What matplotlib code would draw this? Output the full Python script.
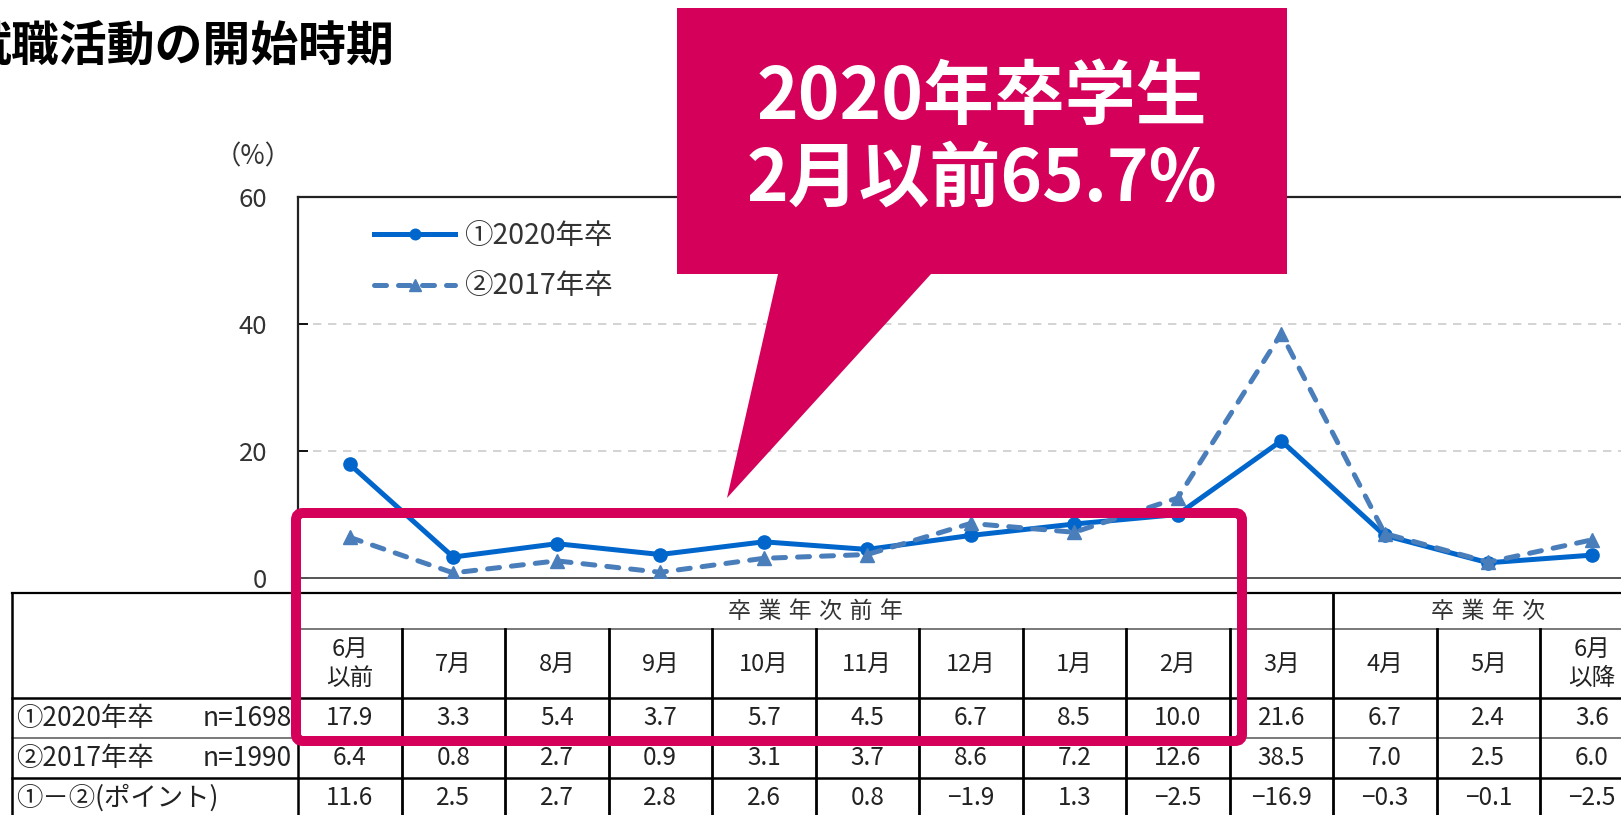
import matplotlib
matplotlib.use('Agg')
import matplotlib.pyplot as plt
from matplotlib.lines import Line2D
from matplotlib.patches import Polygon, FancyBboxPatch
from matplotlib.transforms import blended_transform_factory, IdentityTransform
import numpy as np

plt.rcParams['font.family'] = ['Noto Sans CJK JP', 'DejaVu Sans']

# ---------------- data ----------------
title = '就職活動の開始時期'
months = ['6月\n以前', '7月', '8月', '9月', '10月', '11月', '12月',
          '1月', '2月', '3月', '4月', '5月', '6月\n以降']
series_2020 = [17.9, 3.3, 5.4, 3.7, 5.7, 4.5, 6.7, 8.5, 10.0, 21.6, 6.7, 2.4, 3.6]
series_2017 = [6.4, 0.8, 2.7, 0.9, 3.1, 3.7, 8.6, 7.2, 12.6, 38.5, 7.0, 2.5, 6.0]
diff_points = [11.6, 2.5, 2.7, 2.8, 2.6, 0.8, -1.9, 1.3, -2.5, -16.9, -0.3, -0.1, -2.5]
label_2020 = '①2020年卒'
label_2017 = '②2017年卒'
n_2020 = 'n=1698'
n_2017 = 'n=1990'
label_diff = '①－②(ポイント)'
group_labels = ['卒\u2004業\u2004年\u2004次\u2004前\u2004年', '卒\u2004業\u2004年\u2004次']
group_spans = [10, 3]
yticks = [0, 20, 40, 60]
ylabel = '（%）'
callout_lines = ['2020年卒学生', '2月以前65.7%']

# ---------------- figure ----------------
W, H = 1621, 815
fig = plt.figure(figsize=(W / 100, H / 100), dpi=100)
fig.patch.set_facecolor('white')


def fx(px):
    return px / W


def fy(py):
    return 1 - py / H


COL_W = 103.5
AX_LEFT = 298
ax = fig.add_axes([fx(AX_LEFT), fy(578), 13 * COL_W / W, (578 - 197) / H])

x = np.arange(len(months))
c2020 = '#0066CC'
c2017 = '#4A7EBB'
ax.plot(x, series_2020, color=c2020, lw=3.6, marker='o', ms=9.5,
        label=label_2020, zorder=3, solid_joinstyle='round')
ax.plot(x, series_2017, color=c2017, lw=3.6, ls=(0, (2.4, 2.4)),
        dash_capstyle='round', marker='^', ms=10.5, label=label_2017, zorder=4)

ax.set_xlim(-0.5, 12.5)
ax.set_ylim(0, 60)
ax.set_yticks(yticks)
ax.set_xticks([])
ax.tick_params(axis='y', direction='in', length=7, width=1.3, labelsize=18.5,
               pad=22, colors='black')
ax.tick_params(axis='y', labelcolor='#333333')
for g in [20, 40]:
    ax.axhline(g, color='#cccccc', lw=1.2, ls=(0, (5, 4)), zorder=1)
for s in ['left', 'top']:
    ax.spines[s].set_color('#222222')
    ax.spines[s].set_linewidth(1.6)
ax.spines['bottom'].set_color('#555555')
ax.spines['bottom'].set_linewidth(1.4)
ax.spines['right'].set_visible(False)

leg = ax.legend(loc='upper left', bbox_to_anchor=(fx(374), fy(221)),
                bbox_transform=fig.transFigure, frameon=False, fontsize=20.5,
                handlelength=2.85, handletextpad=0.3, labelspacing=0.72,
                borderpad=0, borderaxespad=0, markerscale=0.8)
for t in leg.get_texts():
    t.set_color('#333333')

fig.text(fx(253), fy(157), ylabel, ha='center', va='center', fontsize=19,
         color='#333333')

fig.text(fx(-37), fy(46), title, ha='left', va='center', fontsize=34.5,
         fontweight='bold', color='black')

# ---------------- table ----------------
tr = blended_transform_factory(ax.transData, fig.transFigure)


def dx(px):
    return -0.5 + (px - AX_LEFT) / COL_W


x_tab_left = dx(12)
x_tab_right = dx(W + 20)


def hline(py, x0, x1, lw, color):
    fig.add_artist(Line2D([x0, x1], [fy(py), fy(py)], transform=tr, lw=lw,
                          color=color, zorder=2))


def vline(xd, py0, py1, lw, color='black'):
    fig.add_artist(Line2D([xd, xd], [fy(py0), fy(py1)], transform=tr, lw=lw,
                          color=color, zorder=2))


hline(593, x_tab_left, x_tab_right, 1.6, 'black')
hline(629, -0.5, x_tab_right, 1.1, '#555555')
hline(698, x_tab_left, x_tab_right, 1.8, 'black')
hline(738, x_tab_left, x_tab_right, 1.1, '#555555')
hline(778, x_tab_left, x_tab_right, 1.8, 'black')
vline(x_tab_left, 593, 830, 1.8)
vline(-0.5, 593, 830, 1.8)
boundary = 0
for span in group_spans:
    boundary += span
    vline(boundary - 0.5, 593, 830, 2.0)
for k in range(1, len(months)):
    if k != group_spans[0]:
        vline(k - 0.5, 629, 830, 2.0)

tcol = '#222222'
start = 0
for lab, span in zip(group_labels, group_spans):
    cx = start + (span - 1) / 2
    fig.text(cx, fy(611), lab, transform=tr, ha='center', va='center',
             fontsize=16.5, color='#333333')
    start += span

for i, m in enumerate(months):
    fig.text(i, fy(664), m, transform=tr, ha='center', va='center',
             fontsize=17, color=tcol, linespacing=1.35)


def fmt(v):
    return f'{v:.1f}'.replace('-', '−')


for vals, py in [(series_2020, 718), (series_2017, 758), (diff_points, 798)]:
    for i, v in enumerate(vals):
        fig.text(i, fy(py), fmt(v), transform=tr, ha='center', va='center',
                 fontsize=17.5, color=tcol)

for lab, n, py in [(label_2020, n_2020, 718), (label_2017, n_2017, 758),
                   (label_diff, '', 798)]:
    fig.text(fx(16), fy(py), lab, ha='left', va='center', fontsize=19,
             color=tcol)
    if n:
        fig.text(fx(292), fy(py), n, ha='right', va='center', fontsize=19,
                 color=tcol)

# ---------------- overlays ----------------
magenta = '#D5005A'
hl = FancyBboxPatch((296, H - 741), 1242 - 296, 741 - 513,
                    boxstyle='round,pad=0,rounding_size=7',
                    transform=IdentityTransform(), fill=False,
                    edgecolor=magenta, lw=7.2, zorder=5)
fig.add_artist(hl)

call = Polygon([(677, H - 8), (1287, H - 8), (1287, H - 274), (931, H - 274),
                (727, H - 498), (778, H - 274), (677, H - 274)],
               closed=True, transform=IdentityTransform(), facecolor=magenta,
               edgecolor='none', zorder=6)
fig.add_artist(call)
for line, py in zip(callout_lines, [98, 180]):
    fig.text(fx(982), fy(py), line, ha='center', va='center', fontsize=51,
             fontweight='bold', color='white', zorder=7)

fig.savefig('out.png', dpi=100)
